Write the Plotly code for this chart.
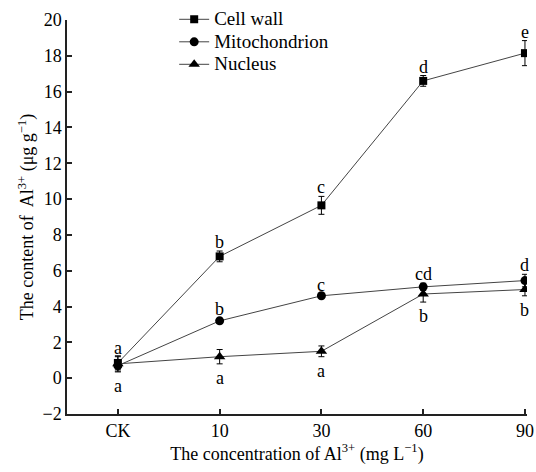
import plotly.graph_objects as go

categories = ["CK", "10", "30", "60", "90"]
cell_wall = [0.85, 6.8, 9.65, 16.6, 18.15]
cell_wall_err = [0.35, 0.3, 0.5, 0.3, 0.7]
mito = [0.7, 3.2, 4.6, 5.1, 5.45]
mito_err = [0.3, 0.15, 0.1, 0.2, 0.35]
nucleus = [0.8, 1.2, 1.5, 4.7, 4.95]
nucleus_err = [0.45, 0.4, 0.3, 0.45, 0.35]
cell_letters = ["a", "b", "c", "d", "e"]
mito_letters = ["", "b", "c", "cd", "d"]
nucleus_letters = ["a", "a", "a", "b", "b"]

FONT = "Liberation Serif"
LINE = "#444444"

fig = go.Figure()
series = [
    ("Cell wall", cell_wall, cell_wall_err, "square", 8),
    ("Mitochondrion", mito, mito_err, "circle", 9),
    ("Nucleus", nucleus, nucleus_err, "triangle-up", 10),
]
for name, vals, errs, sym, sz in series:
    fig.add_trace(go.Scatter(
        x=categories, y=vals,
        name='<span style="font-family:Liberation Serif;font-size:19px">' + name + '</span>',
        mode="lines+markers",
        line=dict(color=LINE, width=1),
        marker=dict(symbol=sym, size=sz, color="black"),
        error_y=dict(type="data", array=errs, visible=True, color="black",
                     thickness=1, width=3),
    ))

annotations = []
for vals, errs, letters, above in [
    (cell_wall, cell_wall_err, cell_letters, True),
    (mito, mito_err, mito_letters, True),
    (nucleus, nucleus_err, nucleus_letters, False),
]:
    for i, (v, e, t) in enumerate(zip(vals, errs, letters)):
        if not t:
            continue
        annotations.append(dict(
            x=i, xref="x", y=v + e if above else v - e, yref="y",
            text=t, showarrow=False,
            yanchor="bottom" if above else "top",
            yshift=-3 if above else -2,
            font=dict(family=FONT, size=18, color="black"),
        ))

fig.update_layout(
    width=536, height=472,
    margin=dict(l=67, r=9, t=20, b=58, autoexpand=False),
    plot_bgcolor="white", paper_bgcolor="white",
    font=dict(family=FONT, size=18, color="black"),
    showlegend=True,
    legend=dict(x=0.233, y=1.043, xanchor="left", yanchor="top",
                bgcolor="rgba(0,0,0,0)", font=dict(family=FONT, size=15),
                tracegroupgap=0, itemwidth=30),
    annotations=annotations,
    xaxis=dict(
        type="category", range=[-0.5, 4.02],
        showline=True, linecolor="#222", linewidth=1.5,
        ticks="inside", ticklen=5, tickcolor="#222", tickwidth=1.5,
        showgrid=False, zeroline=False,
        tickfont=dict(family=FONT, size=18),
        title=dict(text="The concentration of Al<sup>3+</sup> (mg L<sup>−1</sup>)",
                   font=dict(family=FONT, size=18), standoff=4),
    ),
    yaxis=dict(
        range=[-2, 20], tickvals=list(range(-2, 21, 2)),
        showline=True, linecolor="#222", linewidth=1.5,
        ticks="inside", ticklen=5, tickcolor="#222", tickwidth=1.5,
        showgrid=False, zeroline=False,
        tickfont=dict(family=FONT, size=18),
        title=dict(text="The content of  Al<sup>3+</sup> (μg g<sup>−1</sup>)",
                   font=dict(family=FONT, size=18), standoff=4),
    ),
)

fig.write_html("out.html", config={"displayModeBar": False},
               post_script="document.body.style.margin='0';")
